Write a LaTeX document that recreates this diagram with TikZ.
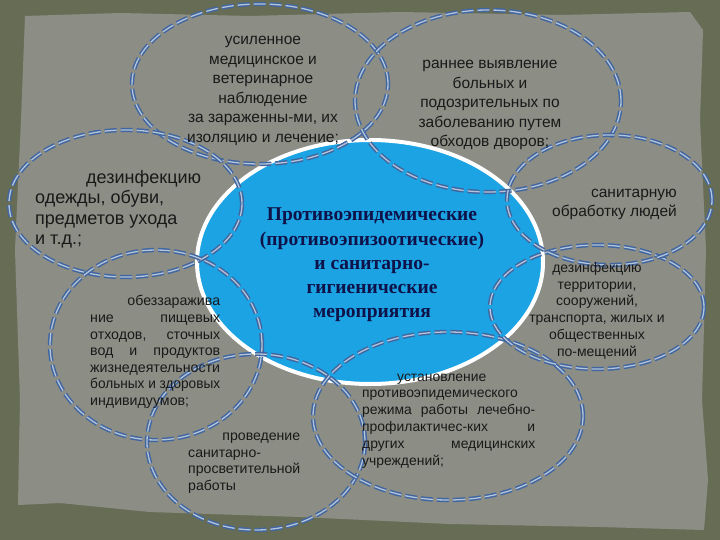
\documentclass[tikz,border=0pt]{standalone}
\usepackage{fontspec}
\setmainfont{Liberation Serif}
\setsansfont{Liberation Sans}
\usepackage{graphicx}
\usepackage{tikz}
\usetikzlibrary{shapes.geometric}

\definecolor{frame}{HTML}{676D55}
\definecolor{paper}{HTML}{8C8E86}
\definecolor{ringblue}{HTML}{41669F}
\definecolor{ringlight}{HTML}{B4C4DA}
\definecolor{core}{HTML}{1BA3E4}
\definecolor{navy}{HTML}{0E1248}

\tikzset{
  ring/.style={ellipse, draw=ringblue, line width=1.5pt, double=ringlight,
    double distance=1.3pt, dash pattern=on 12pt off 4pt, inner sep=0pt},
  item/.style={font=\sffamily\fontsize{15.5}{19.5}\selectfont, text=black!90,
    inner sep=0pt},
}

\begin{document}
\begin{tikzpicture}[x=1pt,y=-1pt]
    \fill[frame] (0,0) rectangle (720,540);% outer frame
    \fill[paper] (25,16) -- (120,13) -- (250,16) -- (400,12) -- (560,15) -- (690,12)
      -- (703,30) -- (700,120) -- (706,250) -- (702,400) -- (708,480) -- (704,530)
      -- (600,527) -- (450,524) -- (300,517) -- (150,512) -- (60,503) -- (18,505)
      -- (20,400) -- (15,250) -- (21,120) -- cycle;% paper sheet

    \node[ellipse, fill=core, draw=white, line width=4pt,
      minimum width=346pt, minimum height=244pt] (core) at (370,262) {};% central ellipse

    \node[ring, minimum width=256pt, minimum height=160pt] (watch) at (260,84) {};% observation
    \node[ring, minimum width=266pt, minimum height=182pt] (early) at (488,101) {};% early detection
    \node[ring, minimum width=233pt, minimum height=147pt] (clothes) at (125.5,203.5) {};% clothes
    \node[ring, minimum width=212pt, minimum height=190pt] (waste) at (156,345) {};% waste
    \node[ring, minimum width=218pt, minimum height=176pt] (educ) at (256,442) {};% education
    \node[ring, minimum width=270pt, minimum height=168pt] (regime) at (448,416) {};% regime
    \node[ring, minimum width=214pt, minimum height=124pt] (rooms) at (597,307) {};% rooms
    \node[ring, minimum width=205pt, minimum height=130pt] (people) at (609.5,200) {};% people

    \node[font=\rmfamily\bfseries\fontsize{19.5}{24.2}\selectfont, text=navy, align=center,
      inner sep=0pt, anchor=north] (title) at (372,208)
      {Противоэпидемические\\(противоэпизоотические)\\и санитарно-\\гигиенические\\мероприятия};

    \node[item, align=center, anchor=north] (twatch) at (263,36)
      {усиленное\\медицинское и\\ветеринарное\\наблюдение\\за зараженны-ми, их\\изоляцию и лечение;};
    \node[item, align=center, anchor=north] (tearly) at (490,60)
      {раннее выявление\\больных и\\подозрительных по\\заболеванию путем\\обходов дворов;};
    \node[item, font=\sffamily\fontsize{18}{20.5}\selectfont, align=left,
      anchor=north west] (tclothes) at (35,170)
      {\hspace*{51pt}дезинфекцию\\одежды, обуви,\\предметов ухода\\и т.д.;};
    \node[item, font=\sffamily\fontsize{15.5}{19}\selectfont, align=right,
      anchor=north east] (tpeople) at (677,189)
      {санитарную\\обработку людей};
    \node[item, font=\sffamily\fontsize{14}{16.8}\selectfont, align=center,
      anchor=north] (trooms) at (597,262)
      {дезинфекцию\\территории,\\сооружений,\\транспорта, жилых и\\общественных\\по-мещений};
    \node[item, font=\sffamily\fontsize{14.2}{16.6}\selectfont, text width=130pt,
      align=justify, anchor=north west] (twaste) at (90,295.3)
      {\hspace*{\fill}обеззаражива\linebreak ние пищевых\linebreak отходов, сточных\linebreak
      вод и продуктов\linebreak жизнедеятельности\linebreak
      \resizebox{\linewidth}{\height}{больных и здоровых}\linebreak индивидуумов;};
    \node[item, font=\sffamily\fontsize{14.1}{16.8}\selectfont, text width=112pt,
      align=flush left, anchor=north west] (teduc) at (188,432.5)
      {\hspace*{\fill}проведение\\санитарно-\\просветительной\\работы};
    \node[item, font=\sffamily\fontsize{13.9}{16.9}\selectfont, text width=173pt,
      align=justify, anchor=north west] (tregime) at (362,373.4)
      {\hspace*{35pt}установление\hspace*{\fill}\linebreak противоэпидемического\hspace*{\fill}\linebreak
      режима работы лечебно-\linebreak профилактичес-ких и\linebreak других медицинских\linebreak
      учреждений;};
\end{tikzpicture}
\end{document}
